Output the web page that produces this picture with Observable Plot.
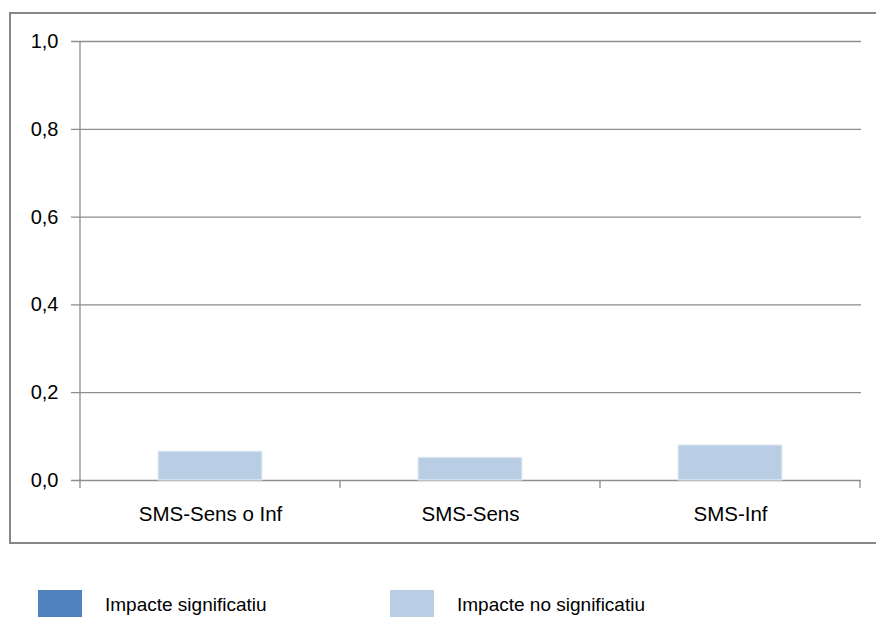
<!DOCTYPE html>
<html>
<head>
<meta charset="utf-8">
<script src="https://cdn.jsdelivr.net/npm/d3@7"></script>
<script src="https://cdn.jsdelivr.net/npm/@observablehq/plot@0.6"></script>
<style>
  html, body { margin: 0; padding: 0; background: #fff; overflow: hidden; }
  body { width: 876px; height: 617px; position: relative; font-family: "Liberation Sans", Arial, sans-serif; }
  #frame { position: absolute; left: 9px; top: 12px; width: 900px; height: 528px; border: 2px solid #878787; border-right: none; }
  #chart { position: absolute; left: 0; top: 0; }
  #legend { position: absolute; left: 0; top: 590px; width: 876px; height: 27px; }
  .sw { position: absolute; top: 0; width: 44px; height: 30px; }
  .lt { position: absolute; top: 4px; font-size: 19px; color: #000; white-space: nowrap; }
</style>
</head>
<body>
<div id="frame"></div>
<div id="chart"></div>
<div id="legend"></div>
<script>
const categories = ["SMS-Sens o Inf", "SMS-Sens", "SMS-Inf"];
const values = [0.066, 0.052, 0.080];
const significant = [false, false, false];
const seriesNames = ["Impacte significatiu", "Impacte no significatiu"];
const seriesColors = ["#4f81bd", "#b9cde5"];
const yTicks = [0, 0.2, 0.4, 0.6, 0.8, 1.0];

const data = categories.map((c, i) => ({
  category: c,
  value: values[i],
  series: significant[i] ? seriesNames[0] : seriesNames[1]
}));

const fmt = d => d.toFixed(1).replace(".", ",");

const chart = Plot.plot({
  width: 876,
  height: 548,
  marginLeft: 79,
  marginRight: 15,
  marginTop: 41,
  marginBottom: 68,
  style: { fontFamily: "Liberation Sans, Arial, sans-serif", fontSize: "20px", background: "transparent", overflow: "visible" },
  x: { domain: categories, paddingInner: 0.6, paddingOuter: 0.3, label: null },
  y: { domain: [0, 1], label: null },
  color: { domain: seriesNames, range: seriesColors },
  marks: [
    Plot.ruleY(yTicks, { stroke: "#8e8e8e", strokeWidth: 1.3, insetLeft: -8 }),
    Plot.barY(data, { x: "category", y: "value", fill: "series", stroke: "#e8eef6", strokeWidth: 1 }),
    Plot.axisY(yTicks, { tickSize: 0, tickPadding: 21, tickFormat: fmt, fill: "#000", fontSize: 20 }),
    Plot.axisX({ tickSize: 0, tickPadding: 26, fill: "#000", fontSize: 20.5 })
  ]
});

document.getElementById("chart").appendChild(chart);

// axis line and category separator ticks, positioned through Plot's scales
const xs = chart.scale("x");
const ys = chart.scale("y");
const step = xs.step;
const gap = (step - xs.bandwidth) / 2;
const y0 = ys.apply(0);
const y1 = ys.apply(1);
const svg = d3.select(chart);
const g = svg.append("g").attr("stroke", "#8e8e8e").attr("stroke-width", 1.3);
const left = xs.apply(categories[0]) - gap;
g.append("line").attr("x1", left).attr("x2", left).attr("y1", y1).attr("y2", y0 + 8);
categories.forEach((c, i) => {
  const b = xs.apply(c) - gap + step;
  g.append("line").attr("x1", b).attr("x2", b).attr("y1", y0).attr("y2", y0 + 8);
});

// legend
const legend = document.getElementById("legend");
const legendX = [38, 390];
seriesNames.forEach((name, i) => {
  const sw = document.createElement("div");
  sw.className = "sw";
  sw.style.left = legendX[i] + "px";
  sw.style.background = seriesColors[i];
  legend.appendChild(sw);
  const t = document.createElement("div");
  t.className = "lt";
  t.style.left = (legendX[i] + 67) + "px";
  t.textContent = name;
  legend.appendChild(t);
});
</script>
</body>
</html>
